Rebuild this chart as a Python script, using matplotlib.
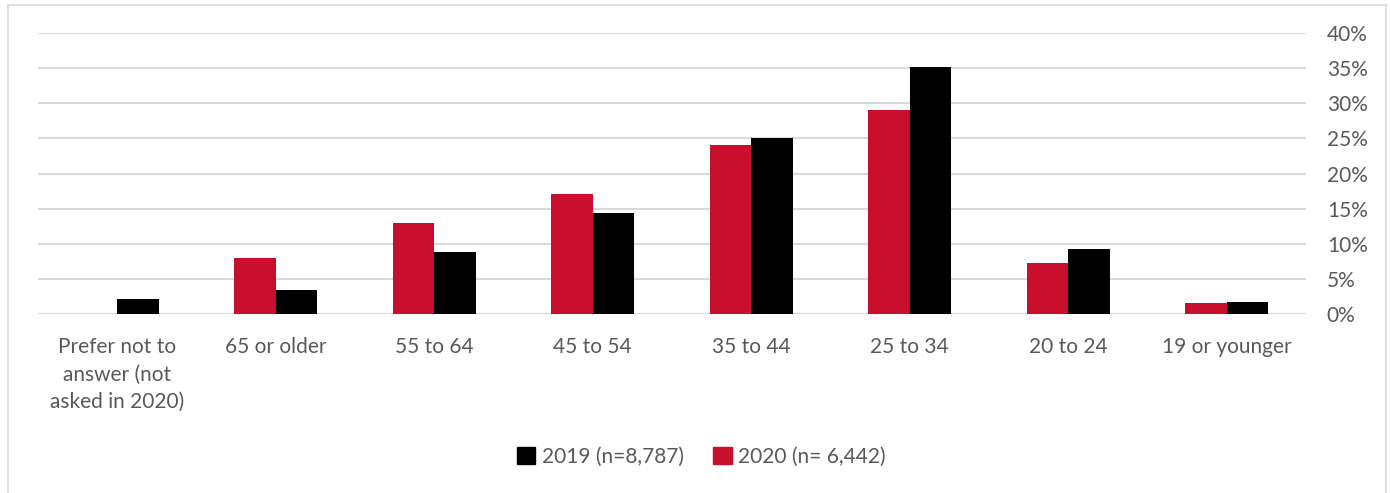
import matplotlib
matplotlib.use("Agg")
import matplotlib.pyplot as plt
import matplotlib.patches as mpatches
import numpy as np

categories = ["Prefer not to\nanswer (not\nasked in 2020)", "65 or older", "55 to 64", "45 to 54",
              "35 to 44", "25 to 34", "20 to 24", "19 or younger"]
values_2020 = [0.0, 8.0, 13.0, 17.1, 24.1, 29.0, 7.2, 1.5]
values_2019 = [2.1, 3.4, 8.8, 14.3, 25.1, 35.2, 9.3, 1.6]
label_2019 = "2019 (n=8,787)"
label_2020 = "2020 (n= 6,442)"
yticks = [0, 5, 10, 15, 20, 25, 30, 35, 40]

RED = "#C8102E"
BLACK = "#000000"
TXT = "#595959"
GRID = "#D9D9D9"

plt.rcParams['font.family'] = ['Lato', 'DejaVu Sans']

W, H = 1390, 493
fig = plt.figure(figsize=(W / 100, H / 100), dpi=100)
ax = fig.add_axes([37.7 / W, 1 - 313.7 / H, (1306 - 37.7) / W, (313.7 - 33.3) / H])

x = np.arange(len(categories))
bw = 0.262
ax.bar(x - bw / 2, values_2020, bw, color=RED, label=label_2020, zorder=3)
ax.bar(x + bw / 2, values_2019, bw, color=BLACK, label=label_2019, zorder=3)

ax.set_xlim(-0.5, len(categories) - 0.5)
ax.set_ylim(0, 40)
ax.set_yticks(yticks)
ax.set_yticklabels([f"{v}%" for v in yticks])
ax.yaxis.tick_right()
ax.yaxis.grid(True, color=GRID, linewidth=1.5, zorder=0)
ax.set_axisbelow(True)
ax.tick_params(axis='y', length=0, pad=15, labelsize=15, labelcolor=TXT)
ax.set_xticks(x)
ax.set_xticklabels(categories, linespacing=1.45)
ax.tick_params(axis='x', length=0, pad=17, labelsize=15, labelcolor=TXT)
for s in ax.spines.values():
    s.set_visible(False)

handles = [mpatches.Patch(color=BLACK, label=label_2019),
           mpatches.Patch(color=RED, label=label_2020)]
leg = fig.legend(handles=handles, loc='center', bbox_to_anchor=(701 / W, 1 - 457 / H),
                 ncol=2, frameon=False, fontsize=15, handlelength=0.9, handleheight=0.9,
                 handletextpad=0.3, columnspacing=1.4)
for t in leg.get_texts():
    t.set_color(TXT)

border = mpatches.Rectangle((8 / W, -0.05), (1386 - 8) / W, 1.05 - 5 / H,
                            transform=fig.transFigure, fill=False, edgecolor=GRID, linewidth=1.2)
fig.patches.append(border)

fig.savefig("out.png", dpi=100)
